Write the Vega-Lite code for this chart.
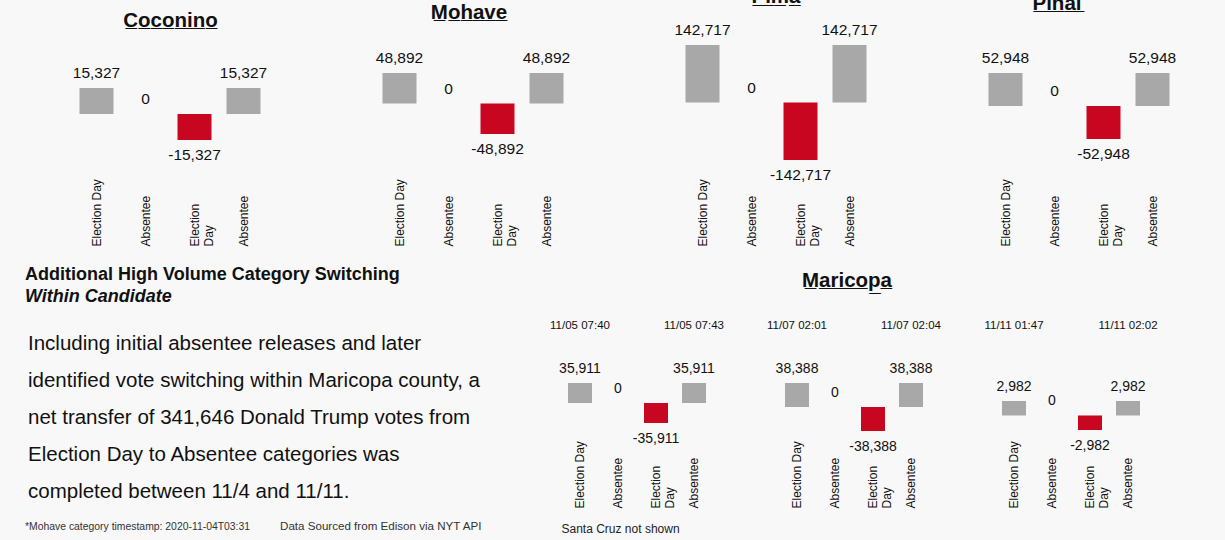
{
  "$schema": "https://vega.github.io/schema/vega-lite/v6.json",
  "background": "#f8f8f8",
  "padding": {"left": 25, "top": -13, "right": 50, "bottom": 10},
  "config": {
    "font": "Liberation Sans",
    "view": {"stroke": null},
    "axis": {"domain": false, "ticks": false, "tickSize": 0, "grid": false, "labelFontSize": 12, "labelColor": "#111111"},
    "axisX": {"labelAngle": 270, "labelAlign": "left", "labelBaseline": "middle"},
    "title": {"fontSize": 20.5, "fontWeight": "bold", "color": "#111111", "baseline": "alphabetic"},
    "text": {"color": "#111111"},
    "locale": {"number": {"decimal": ".", "thousands": ",", "grouping": [3], "currency": ["$", ""], "minus": "-"}}
  },
  "datasets": {
    "bars": [
      {"panel": "Coconino", "step": "ED1", "value": 15327},
      {"panel": "Coconino", "step": "AB1", "value": 0},
      {"panel": "Coconino", "step": "ED2", "value": -15327},
      {"panel": "Coconino", "step": "AB2", "value": 15327},
      {"panel": "Mohave", "step": "ED1", "value": 48892},
      {"panel": "Mohave", "step": "AB1", "value": 0},
      {"panel": "Mohave", "step": "ED2", "value": -48892},
      {"panel": "Mohave", "step": "AB2", "value": 48892},
      {"panel": "Pima", "step": "ED1", "value": 142717},
      {"panel": "Pima", "step": "AB1", "value": 0},
      {"panel": "Pima", "step": "ED2", "value": -142717},
      {"panel": "Pima", "step": "AB2", "value": 142717},
      {"panel": "Pinal", "step": "ED1", "value": 52948},
      {"panel": "Pinal", "step": "AB1", "value": 0},
      {"panel": "Pinal", "step": "ED2", "value": -52948},
      {"panel": "Pinal", "step": "AB2", "value": 52948},
      {"panel": "Maricopa 1", "step": "ED1", "value": 35911, "ts": "11/05 07:40"},
      {"panel": "Maricopa 1", "step": "AB1", "value": 0},
      {"panel": "Maricopa 1", "step": "ED2", "value": -35911},
      {"panel": "Maricopa 1", "step": "AB2", "value": 35911, "ts": "11/05 07:43"},
      {"panel": "Maricopa 2", "step": "ED1", "value": 38388, "ts": "11/07 02:01"},
      {"panel": "Maricopa 2", "step": "AB1", "value": 0},
      {"panel": "Maricopa 2", "step": "ED2", "value": -38388},
      {"panel": "Maricopa 2", "step": "AB2", "value": 38388, "ts": "11/07 02:04"},
      {"panel": "Maricopa 3", "step": "ED1", "value": 2982, "ts": "11/11 01:47"},
      {"panel": "Maricopa 3", "step": "AB1", "value": 0},
      {"panel": "Maricopa 3", "step": "ED2", "value": -2982},
      {"panel": "Maricopa 3", "step": "AB2", "value": 2982, "ts": "11/11 02:02"}
    ],
    "notes": [
      {"kind": "body", "line": 1, "col": 1, "text": "Including initial absentee releases and later"},
      {"kind": "body", "line": 2, "col": 1, "text": "identified vote switching within Maricopa county, a"},
      {"kind": "body", "line": 3, "col": 1, "text": "net transfer of 341,646 Donald Trump votes from"},
      {"kind": "body", "line": 4, "col": 1, "text": "Election Day to Absentee categories was"},
      {"kind": "body", "line": 5, "col": 1, "text": "completed between 11/4 and 11/11."},
      {"kind": "footnote", "line": 6, "col": 1, "text": "*Mohave category timestamp: 2020-11-04T03:31"},
      {"kind": "source", "line": 6, "col": 2, "text": "Data Sourced from Edison via NYT API"}
    ]
  },
  "spacing": 19,
  "vconcat": [
    {
      "spacing": 107,
      "bounds": "flush",
      "hconcat": [
        {
          "width": 243, "height": 130,
          "title": {"text": "C\u0332o\u0332c\u0332o\u0332n\u0332i\u0332n\u0332o\u0332", "offset": 9, "dx": 24},
          "data": {"name": "bars"},
          "transform": [{"filter": "datum.panel == 'Coconino'"}],
          "encoding": {
            "x": {"field": "step", "type": "nominal", "title": null, "scale": {"domain": ["ED1", "AB1", "ED2", "AB2"], "paddingInner": 0, "paddingOuter": 0.4796, "align": 1}, "axis": {"labelPadding": 76, "labelExpr": "datum.value == 'ED1' ? 'Election Day' : datum.value == 'ED2' ? ['Election', 'Day'] : 'Absentee'"}},
            "y": {"field": "value", "type": "quantitative", "scale": {"domain": [-33000, 43600], "nice": false, "zero": false}, "axis": null}
          },
          "layer": [
            {"mark": {"type": "bar", "width": 34}, "encoding": {"color": {"condition": {"test": "datum.value < 0", "value": "#c9061f"}, "value": "#a8a8a8"}}},
            {"transform": [{"filter": "datum.value >= 0"}], "mark": {"type": "text", "baseline": "bottom", "dy": -7, "fontSize": 15.5}, "encoding": {"text": {"field": "value", "type": "quantitative", "format": ","}}},
            {"transform": [{"filter": "datum.value < 0"}], "mark": {"type": "text", "baseline": "top", "dy": 8, "fontSize": 15.5}, "encoding": {"text": {"field": "value", "type": "quantitative", "format": ","}}}
          ]
        },
        {
          "width": 196, "height": 130,
          "title": {"text": "M\u0332o\u0332h\u0332a\u0332v\u0332e\u0332", "offset": 17, "dx": -4},
          "data": {"name": "bars"},
          "transform": [{"filter": "datum.panel == 'Mohave'"}],
          "encoding": {
            "x": {"field": "step", "type": "nominal", "title": null, "scale": {"domain": ["ED1", "AB1", "ED2", "AB2"], "paddingInner": 0, "paddingOuter": 0}, "axis": {"labelPadding": 76, "labelExpr": "datum.value == 'ED1' ? 'Election Day' : datum.value == 'ED2' ? ['Election', 'Day'] : 'Absentee'"}},
            "y": {"field": "value", "type": "quantitative", "scale": {"domain": [-106600, 101800], "nice": false, "zero": false}, "axis": null}
          },
          "layer": [
            {"mark": {"type": "bar", "width": 34}, "encoding": {"color": {"condition": {"test": "datum.value < 0", "value": "#c9061f"}, "value": "#a8a8a8"}}},
            {"transform": [{"filter": "datum.value >= 0"}], "mark": {"type": "text", "baseline": "bottom", "dy": -7, "fontSize": 15.5}, "encoding": {"text": {"field": "value", "type": "quantitative", "format": ","}}},
            {"transform": [{"filter": "datum.value < 0"}], "mark": {"type": "text", "baseline": "top", "dy": 8, "fontSize": 15.5}, "encoding": {"text": {"field": "value", "type": "quantitative", "format": ","}}}
          ]
        },
        {
          "width": 196, "height": 130,
          "title": {"text": "P\u0332i\u0332m\u0332a\u0332", "offset": 15, "dx": 0},
          "data": {"name": "bars"},
          "transform": [{"filter": "datum.panel == 'Pima'"}],
          "encoding": {
            "x": {"field": "step", "type": "nominal", "title": null, "scale": {"domain": ["ED1", "AB1", "ED2", "AB2"], "paddingInner": 0, "paddingOuter": 0}, "axis": {"labelPadding": 76, "labelExpr": "datum.value == 'ED1' ? 'Election Day' : datum.value == 'ED2' ? ['Election', 'Day'] : 'Absentee'"}},
            "y": {"field": "value", "type": "quantitative", "scale": {"domain": [-167500, 155100], "nice": false, "zero": false}, "axis": null}
          },
          "layer": [
            {"mark": {"type": "bar", "width": 34}, "encoding": {"color": {"condition": {"test": "datum.value < 0", "value": "#c9061f"}, "value": "#a8a8a8"}}},
            {"transform": [{"filter": "datum.value >= 0"}], "mark": {"type": "text", "baseline": "bottom", "dy": -7, "fontSize": 15.5}, "encoding": {"text": {"field": "value", "type": "quantitative", "format": ","}}},
            {"transform": [{"filter": "datum.value < 0"}], "mark": {"type": "text", "baseline": "top", "dy": 8, "fontSize": 15.5}, "encoding": {"text": {"field": "value", "type": "quantitative", "format": ","}}}
          ]
        },
        {
          "width": 196, "height": 130,
          "title": {"text": "P\u0332i\u0332n\u0332a\u0332l\u0332", "offset": 26, "dx": -22},
          "data": {"name": "bars"},
          "transform": [{"filter": "datum.panel == 'Pinal'"}],
          "encoding": {
            "x": {"field": "step", "type": "nominal", "title": null, "scale": {"domain": ["ED1", "AB1", "ED2", "AB2"], "paddingInner": 0, "paddingOuter": 0}, "axis": {"labelPadding": 76, "labelExpr": "datum.value == 'ED1' ? 'Election Day' : datum.value == 'ED2' ? ['Election', 'Day'] : 'Absentee'"}},
            "y": {"field": "value", "type": "quantitative", "scale": {"domain": [-102700, 105900], "nice": false, "zero": false}, "axis": null}
          },
          "layer": [
            {"mark": {"type": "bar", "width": 34}, "encoding": {"color": {"condition": {"test": "datum.value < 0", "value": "#c9061f"}, "value": "#a8a8a8"}}},
            {"transform": [{"filter": "datum.value >= 0"}], "mark": {"type": "text", "baseline": "bottom", "dy": -7, "fontSize": 15.5}, "encoding": {"text": {"field": "value", "type": "quantitative", "format": ","}}},
            {"transform": [{"filter": "datum.value < 0"}], "mark": {"type": "text", "baseline": "top", "dy": 8, "fontSize": 15.5}, "encoding": {"text": {"field": "value", "type": "quantitative", "format": ","}}}
          ]
        }
      ]
    },
    {
      "spacing": 65,
      "bounds": "flush",
      "hconcat": [
        {
          "width": 471, "height": 185,
          "title": {"text": "Additional High Volume Category Switching", "subtitle": "Within Candidate", "anchor": "start", "fontSize": 18, "fontWeight": "bold", "subtitleFontSize": 18, "subtitleFontWeight": "bold", "subtitleFontStyle": "italic", "subtitleColor": "#111111", "subtitlePadding": 4, "offset": 28.5},
          "data": {"name": "notes"},
          "encoding": {
            "x": {"field": "col", "type": "ordinal", "bandPosition": 0, "scale": {"type": "band", "domain": [1, 2], "paddingInner": 0.153, "paddingOuter": 0}, "axis": null},
            "y": {"field": "line", "type": "ordinal", "scale": {"type": "point", "domain": [1, 2, 3, 4, 5, 6], "padding": 0}, "axis": null},
            "text": {"field": "text"}
          },
          "layer": [
            {"transform": [{"filter": "datum.kind == 'body'"}], "mark": {"type": "text", "align": "left", "baseline": "middle", "fontSize": 20.5, "dx": 3}},
            {"transform": [{"filter": "datum.kind == 'footnote'"}], "mark": {"type": "text", "align": "left", "baseline": "middle", "fontSize": 10.4, "dy": -2, "color": "#333333"}},
            {"transform": [{"filter": "datum.kind == 'source'"}], "mark": {"type": "text", "align": "left", "baseline": "middle", "fontSize": 11.6, "dy": -2, "color": "#333333"}}
          ]
        },
        {
          "width": 152, "height": 118,
          "data": {"name": "bars"},
          "transform": [{"filter": "datum.panel == 'Maricopa 1'"}],
          "encoding": {
            "x": {"field": "step", "type": "nominal", "title": "Santa Cruz not shown", "scale": {"domain": ["ED1", "AB1", "ED2", "AB2"], "paddingInner": 0, "paddingOuter": 0}, "axis": {"labelPadding": 46, "titleAnchor": "start", "titleAlign": "left", "titleFontSize": 12, "titleFontWeight": "normal", "titleColor": "#222222", "titlePadding": 15, "labelExpr": "datum.value == 'ED1' ? 'Election Day' : datum.value == 'ED2' ? ['Election', 'Day'] : 'Absentee'"}},
            "y": {"field": "value", "type": "quantitative", "scale": {"domain": [-105940, 105940], "nice": false, "zero": false}, "axis": null}
          },
          "layer": [
            {"mark": {"type": "bar", "width": 24}, "encoding": {"color": {"condition": {"test": "datum.value < 0", "value": "#c9061f"}, "value": "#a8a8a8"}}},
            {"transform": [{"filter": "datum.value >= 0"}], "mark": {"type": "text", "baseline": "bottom", "dy": -7, "fontSize": 14}, "encoding": {"text": {"field": "value", "type": "quantitative", "format": ","}}},
            {"transform": [{"filter": "datum.value < 0"}], "mark": {"type": "text", "baseline": "top", "dy": 9, "fontSize": 14}, "encoding": {"text": {"field": "value", "type": "quantitative", "format": ","}}},
            {"transform": [{"filter": "isValid(datum.ts)"}], "mark": {"type": "text", "baseline": "middle", "dy": -18, "fontSize": 11.5}, "encoding": {"y": {"datum": 105940}, "text": {"field": "ts"}}}
          ]
        },
        {
          "width": 152, "height": 118,
          "title": {"text": "M\u0332a\u0332r\u0332i\u0332c\u0332o\u0332p\u0332a\u0332", "offset": 29, "dx": -7},
          "data": {"name": "bars"},
          "transform": [{"filter": "datum.panel == 'Maricopa 2'"}],
          "encoding": {
            "x": {"field": "step", "type": "nominal", "title": null, "scale": {"domain": ["ED1", "AB1", "ED2", "AB2"], "paddingInner": 0, "paddingOuter": 0}, "axis": {"labelPadding": 46, "labelExpr": "datum.value == 'ED1' ? 'Election Day' : datum.value == 'ED2' ? ['Election', 'Day'] : 'Absentee'"}},
            "y": {"field": "value", "type": "quantitative", "scale": {"domain": [-87970, 100770], "nice": false, "zero": false}, "axis": null}
          },
          "layer": [
            {"mark": {"type": "bar", "width": 24}, "encoding": {"color": {"condition": {"test": "datum.value < 0", "value": "#c9061f"}, "value": "#a8a8a8"}}},
            {"transform": [{"filter": "datum.value >= 0"}], "mark": {"type": "text", "baseline": "bottom", "dy": -7, "fontSize": 14}, "encoding": {"text": {"field": "value", "type": "quantitative", "format": ","}}},
            {"transform": [{"filter": "datum.value < 0"}], "mark": {"type": "text", "baseline": "top", "dy": 9, "fontSize": 14}, "encoding": {"text": {"field": "value", "type": "quantitative", "format": ","}}},
            {"transform": [{"filter": "isValid(datum.ts)"}], "mark": {"type": "text", "baseline": "middle", "dy": -18, "fontSize": 11.5}, "encoding": {"y": {"datum": 100770}, "text": {"field": "ts"}}}
          ]
        },
        {
          "width": 152, "height": 118,
          "data": {"name": "bars"},
          "transform": [{"filter": "datum.panel == 'Maricopa 3'"}],
          "encoding": {
            "x": {"field": "step", "type": "nominal", "title": null, "scale": {"domain": ["ED1", "AB1", "ED2", "AB2"], "paddingInner": 0, "paddingOuter": 0}, "axis": {"labelPadding": 46, "labelExpr": "datum.value == 'ED1' ? 'Election Day' : datum.value == 'ED2' ? ['Election', 'Day'] : 'Absentee'"}},
            "y": {"field": "value", "type": "quantitative", "scale": {"domain": [-9565, 14700], "nice": false, "zero": false}, "axis": null}
          },
          "layer": [
            {"mark": {"type": "bar", "width": 24}, "encoding": {"color": {"condition": {"test": "datum.value < 0", "value": "#c9061f"}, "value": "#a8a8a8"}}},
            {"transform": [{"filter": "datum.value >= 0"}], "mark": {"type": "text", "baseline": "bottom", "dy": -7, "fontSize": 14}, "encoding": {"text": {"field": "value", "type": "quantitative", "format": ","}}},
            {"transform": [{"filter": "datum.value < 0"}], "mark": {"type": "text", "baseline": "top", "dy": 9, "fontSize": 14}, "encoding": {"text": {"field": "value", "type": "quantitative", "format": ","}}},
            {"transform": [{"filter": "isValid(datum.ts)"}], "mark": {"type": "text", "baseline": "middle", "dy": -18, "fontSize": 11.5}, "encoding": {"y": {"datum": 14700}, "text": {"field": "ts"}}}
          ]
        }
      ]
    }
  ]
}
